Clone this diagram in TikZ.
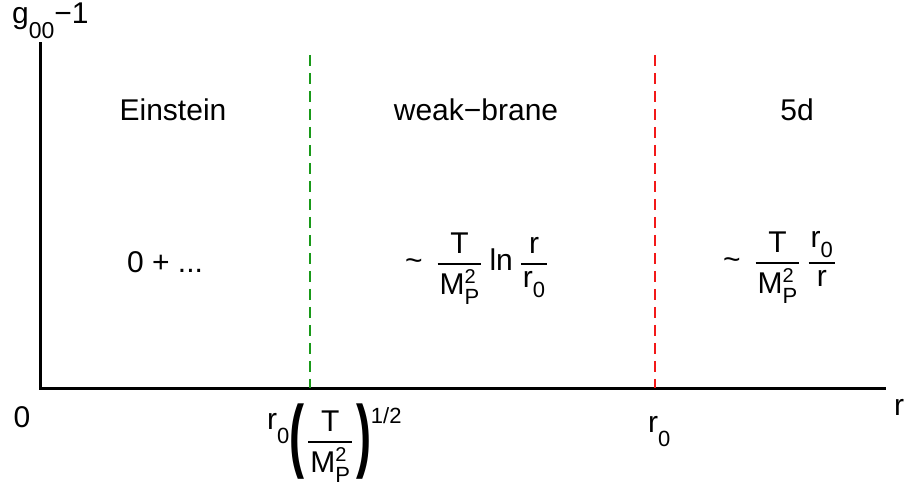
\documentclass[tikz,border=0pt]{standalone}
\usepackage{amsmath}
\usepackage{graphicx}
\usepackage{fontspec}
\setmainfont{Liberation Sans}
\usepackage{xcolor}
\definecolor{LineGreen}{rgb}{0.1, 0.6, 0.1}
\definecolor{LineRed}{rgb}{0.95, 0.1, 0.1}
\usepackage{tikz}
\usetikzlibrary{positioning}
\newcommand{\lowsub}[2][10pt]{\raisebox{-#1}{\fontsize{22}{22}\selectfont #2}}
\newcommand{\highsup}[2][11pt]{\raisebox{#1}{\fontsize{20}{20}\selectfont #2}}
\newcommand{\Mp}{\text{M\rlap{\highsup{2}}\lowsub{P}}}
\newcommand{\ffrac}[2]{\genfrac{}{}{1.6pt}{0}{\kern2pt#1\kern2pt}{\kern2pt#2\kern2pt}}
\newcommand{\bigparen}[1]{\vcenter{\hbox{\scalebox{1.5}[2.7]{\textbf{#1}}}}}

\begin{document}
\begin{tikzpicture}[
        x=1pt, y=-1pt,
        font=\fontsize{30}{36}\selectfont,
        % Styles
        axis/.style={line width=3pt, line cap=rect},
        bound/.style={line width=2pt, dash pattern=on 11pt off 7pt},
        regime/.style={anchor=base, inner sep=0pt},
        formula/.style={anchor=base west, inner sep=0pt}
    ]
    \useasboundingbox (0,0) rectangle (906,486);

    % 1. AXES
    \coordinate (origin) at (40,389);
    \coordinate (ytop) at (40,44);
    \coordinate (xend) at (884,389);
    \draw[axis] (ytop) -- (origin) -- (xend);
    \node[formula] (ylab) at (12,24) {g\lowsub[15pt]{\fontsize{23}{23}\selectfont 00}−1};
    \node[regime] (xlab) at (899,416) {r};
    \node[regime] (zero) at (22,428) {0};

    % 2. BOUNDARIES
    \coordinate (gtop) at (310,55);
    \coordinate (gbot) at (310,388);
    \coordinate (rtop) at (655,55);
    \coordinate (rbot) at (655,388);
    \draw[bound, LineGreen] (gtop) -- (gbot);
    \draw[bound, LineRed] (rtop) -- (rbot);
    \node[formula] (rcross) at (267,448)
        {$\text{\raisebox{18pt}{r\lowsub[14pt]{0}}}\bigparen{(}\mkern2mu\ffrac{\text{T}}{\Mp}\mkern2mu\bigparen{)}%
          \text{\raisebox{24pt}{\fontsize{22}{22}\selectfont 1/2}}$};
    \node[formula] (rzero) at (648,433) {r\lowsub[14pt]{0}};

    % 3. REGIMES
    \node[regime] (ein) at (173,121) {Einstein};
    \node[regime] (weak) at (476,121) {weak−brane};
    \node[regime] (five) at (797,121) {5d};
    \node[regime] (einf) at (165,273) {0 + ...};
    \node[formula] (weakf) at (405,270.5)
        {$\text{\textasciitilde}\;\;\ffrac{\text{T}}{\Mp}\;\text{ln}\;\ffrac{\text{r}}{\text{r\lowsub{0}}}$};
    \node[formula] (fivef) at (723,269.5)
        {$\text{\textasciitilde}\;\;\ffrac{\text{T}}{\Mp}\;\ffrac{\text{r\lowsub{0}}}{\text{r}}$};
\end{tikzpicture}
\end{document}
